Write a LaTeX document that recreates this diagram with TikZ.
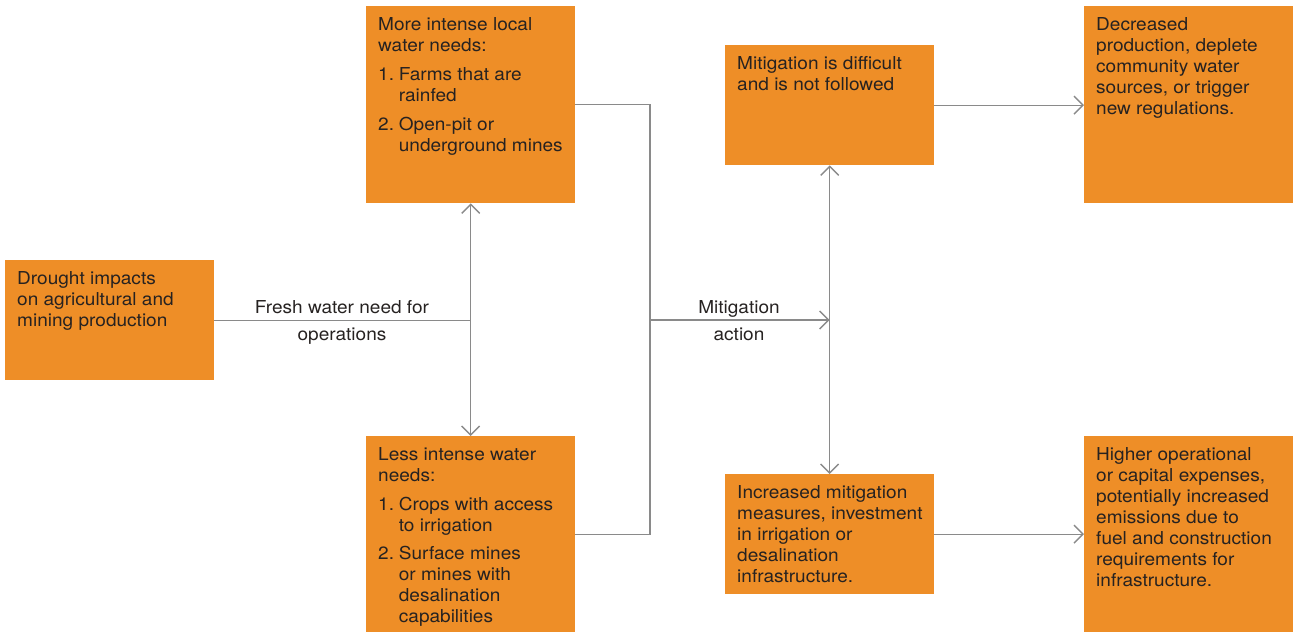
\documentclass[tikz,border=0pt]{standalone}
\usepackage{fontspec}
\setmainfont[FakeStretch=1.07]{TeX Gyre Heros}
\usetikzlibrary{arrows.meta}
\definecolor{boxorange}{HTML}{EE8E27}
\definecolor{txtdark}{HTML}{262221}
\definecolor{linegray}{HTML}{8A8A8A}
\newcommand{\bt}[1]{\begin{tabular}{@{}l@{}}#1\end{tabular}}
\newcommand{\lt}[1]{\begin{tabular}{@{}l@{\hspace{4.8pt}}l@{}}#1\end{tabular}}
\tikzset{
  box/.style={fill=boxorange, draw=none, inner sep=0pt, anchor=north west, minimum width=209pt},
  boxtext/.style={inner sep=0pt, anchor=north west, text=txtdark, font=\fontsize{17.8}{21}\selectfont},
  lbl/.style={inner sep=0pt, anchor=base, text=txtdark, font=\fontsize{17.8}{21}\selectfont},
  conn/.style={draw=linegray, line width=1.4pt},
  arr/.style={conn, -{Straight Barb[length=9pt,width=18pt,line width=1.4pt]}},
  darr/.style={conn, {Straight Barb[length=9pt,width=18pt,line width=1.4pt]}-{Straight Barb[length=9pt,width=18pt,line width=1.4pt]}}
}
\begin{document}
\begin{tikzpicture}[x=1pt,y=-1pt]
\useasboundingbox (0,0) rectangle (1293,632);
% boxes
\node[box, minimum height=120pt] (drought) at (5,260) {};
\node[box, minimum height=197pt] (more) at (366,6) {};
\node[box, minimum height=196pt] (less) at (366,436) {};
\node[box, minimum height=120pt] (mit) at (725,45) {};
\node[box, minimum height=120pt] (inc) at (725,474) {};
\node[box, minimum height=197pt] (dec) at (1084,6) {};
\node[box, minimum height=196pt] (high) at (1084,436) {};
% texts
\node[boxtext] (tdrought) at ([shift={(12,9.5)}]drought.north west) {\bt{Drought impacts\\on agricultural and\\mining production}};
\node[boxtext] (tmore) at ([shift={(12,9.5)}]more.north west) {\bt{More intense local\\water needs:}};
\node[boxtext, anchor=north west] (lmore) at ([yshift=-7.5pt]tmore.south west) {\lt{1. & Farms that are\\ & rainfed\\[8pt] 2. & Open-pit or\\ & underground mines}};
\node[boxtext] (tless) at ([shift={(12,9.5)}]less.north west) {\bt{Less intense water\\needs:}};
\node[boxtext, anchor=north west] (lless) at ([yshift=-7.5pt]tless.south west) {\lt{1. & Crops with access\\ & to irrigation\\[7.5pt] 2. & Surface mines\\ & or mines with\\ & desalination\\ & capabilities}};
\node[boxtext] (tmit) at ([shift={(12,9.5)}]mit.north west) {\bt{Mitigation is difficult\\and is not followed}};
\node[boxtext] (tinc) at ([shift={(12,9.5)}]inc.north west) {\bt{Increased mitigation\\measures, investment\\in irrigation or\\desalination\\infrastructure.}};
\node[boxtext] (tdec) at ([shift={(12,9.5)}]dec.north west) {\bt{Decreased\\production, deplete\\community water\\sources, or trigger\\new regulations.}};
\node[boxtext] (thigh) at ([shift={(12,9.5)}]high.north west) {\bt{Higher operational\\or capital expenses,\\potentially increased\\emissions due to\\fuel and construction\\requirements for\\infrastructure.}};
% junctions
\coordinate (j1) at (more.south |- drought.east);
\coordinate (j2) at (650,320);
\coordinate (j3) at (mit.south |- j2);
% connectors
\draw[conn] (drought.east) -- (j1);
\draw[darr] (more.south) -- (less.north);
\draw[conn] (more.east) -| (j2) |- (less.east);
\draw[arr] (j2) -- (j3);
\draw[darr] (mit.south) -- (inc.north);
\draw[arr] (mit.east) -- (dec.west |- mit.east);
\draw[arr] (inc.east) -- (high.west |- inc.east);
% labels
\node[lbl] (l1a) at (342,313) {Fresh water need for};
\node[lbl] (l1b) at (342,340) {operations};
\node[lbl] (l2a) at (739,313) {Mitigation};
\node[lbl] (l2b) at (739,340) {action};
\end{tikzpicture}
\end{document}
